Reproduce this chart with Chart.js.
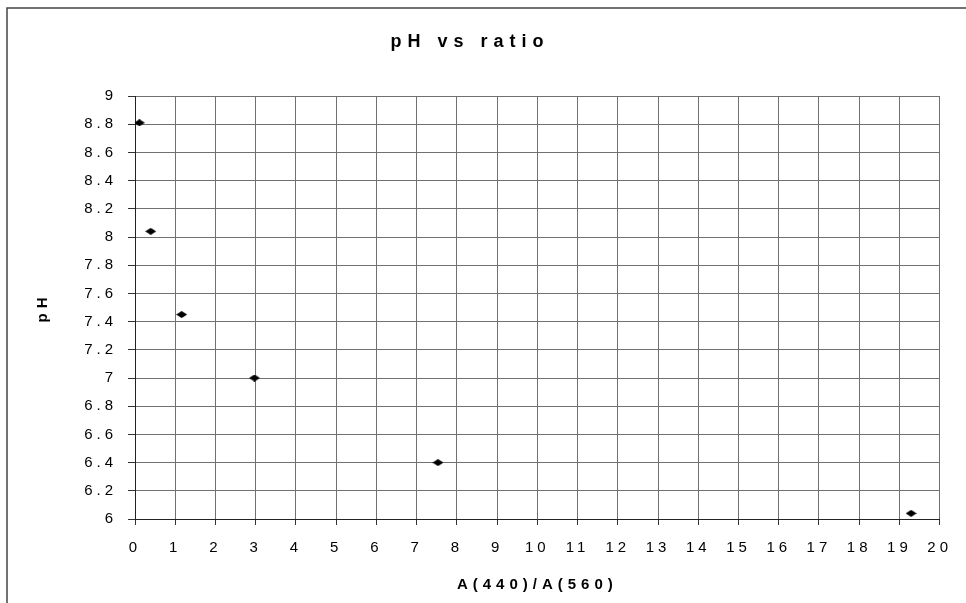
<!DOCTYPE html>
<html>
<head>
<meta charset="utf-8">
<script src="https://cdn.jsdelivr.net/npm/chart.js@4/dist/chart.umd.min.js"></script>
<style>
  html, body { margin: 0; padding: 0; background: #fff; }
  #c { display: block; }
</style>
</head>
<body>
<canvas id="c" width="966" height="603"></canvas>
<script>
// ---- data ----
const ratioValues = [0.11, 0.39, 1.16, 2.97, 7.53, 19.29];
const pHValues    = [8.81, 8.04, 7.45, 7.00, 6.40, 6.04];
const chartTitle  = 'pH vs ratio';
const xAxisTitle  = 'A(440)/A(560)';
const yAxisTitle  = 'pH';
const xTickRange  = { min: 0, max: 20, step: 1 };
const yTickRange  = { min: 6, max: 9, step: 0.2 };

const points = ratioValues.map((x, i) => ({ x: x, y: pHValues[i] }));

// flattened diamond marker
const marker = document.createElement('canvas');
marker.width = 11; marker.height = 7;
(function () {
  const m = marker.getContext('2d');
  m.fillStyle = '#000';
  m.beginPath();
  m.moveTo(0, 3.5); m.lineTo(5.5, 0); m.lineTo(11, 3.5); m.lineTo(5.5, 7);
  m.closePath(); m.fill();
})();

const FONT = "'Liberation Sans', Arial, sans-serif";
const TICK_SPACING = '4px';
const TITLE_SPACING = '6px';
const AXIS_TITLE_SPACING = '5px';
function setSpacing(chart) { chart.ctx.letterSpacing = TICK_SPACING; }

function wrapSpacing(obj, method, spacing) {
  if (!obj || obj['__wrapped_' + method]) return;
  const orig = obj[method];
  obj[method] = function () {
    const c = this.ctx;
    const prev = c.letterSpacing;
    c.letterSpacing = spacing;
    const r = orig.apply(this, arguments);
    c.letterSpacing = prev;
    return r;
  };
  obj['__wrapped_' + method] = true;
}

const spacingPlugin = {
  id: 'spacing',
  beforeUpdate: setSpacing,
  beforeLayout: setSpacing,
  afterLayout(chart) {
    wrapSpacing(chart.titleBlock, 'draw', TITLE_SPACING);
    Object.values(chart.scales).forEach(s => wrapSpacing(s, 'drawTitle', AXIS_TITLE_SPACING));
  },
  beforeDraw(chart) {
    setSpacing(chart);
    const ctx = chart.ctx;
    ctx.save();
    ctx.strokeStyle = '#444';
    ctx.lineWidth = 1.5;
    ctx.beginPath();
    ctx.moveTo(7, chart.height);
    ctx.lineTo(7, 8);
    ctx.lineTo(chart.width, 8);
    ctx.stroke();
    ctx.restore();
  },
  beforeDatasetsDraw: setSpacing
};

Chart.defaults.font.family = FONT;
Chart.defaults.color = '#000';

new Chart(document.getElementById('c'), {
  type: 'scatter',
  data: {
    datasets: [{
      data: points,
      pointStyle: marker,
      pointRadius: 5,
      pointHoverRadius: 5,
      backgroundColor: '#000',
      borderColor: '#000'
    }]
  },
  options: {
    responsive: false,
    devicePixelRatio: 1,
    animation: false,
    layout: { padding: { left: 0, top: 0, right: 26, bottom: 0 } },
    plugins: {
      legend: { display: false },
      tooltip: { enabled: false },
      title: {
        display: true,
        text: chartTitle,
        color: '#000',
        font: { family: FONT, size: 18, weight: 'bold', lineHeight: 1.2 },
        padding: { top: 31, bottom: 43.4 }
      }
    },
    scales: {
      x: {
        type: 'linear',
        position: 'bottom',
        min: xTickRange.min,
        max: xTickRange.max,
        afterFit(s) { s.height = 84; },
        ticks: {
          stepSize: xTickRange.step,
          autoSkip: false,
          maxRotation: 0,
          padding: 14,
          color: '#000',
          font: { family: FONT, size: 15 }
        },
        grid: { color: '#707070', lineWidth: 1, tickLength: 6, tickColor: '#333' },
        border: { color: '#222', width: 1 },
        title: {
          display: true,
          text: xAxisTitle,
          color: '#000',
          font: { family: FONT, size: 15, weight: 'bold', lineHeight: 1.2 },
          padding: { top: 0, bottom: 9 }
        }
      },
      y: {
        type: 'linear',
        position: 'left',
        min: yTickRange.min,
        max: yTickRange.max,
        afterFit(s) { s.width = 135; },
        ticks: {
          stepSize: yTickRange.step,
          autoSkip: false,
          padding: 11,
          color: '#000',
          font: { family: FONT, size: 15 },
          callback: v => String(Number(v.toFixed(1)))
        },
        grid: { color: '#707070', lineWidth: 1, tickLength: 7, tickColor: '#333' },
        border: { color: '#222', width: 1 },
        title: {
          display: true,
          text: yAxisTitle,
          color: '#000',
          font: { family: FONT, size: 15, weight: 'bold', lineHeight: 1.2 },
          padding: { top: 34, bottom: 0 }
        }
      }
    }
  },
  plugins: [spacingPlugin]
});
</script>
</body>
</html>
